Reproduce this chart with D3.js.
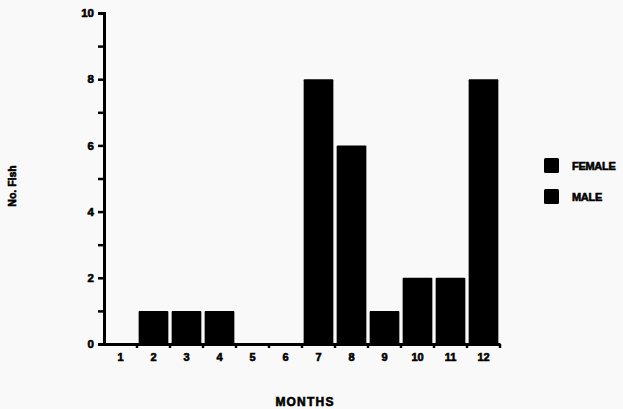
<!DOCTYPE html>
<html><head><meta charset="utf-8">
<script src="https://cdn.jsdelivr.net/npm/d3@7"></script>
<style>
html,body{margin:0;padding:0;background:#f9f9f9;}
text{font-family:"Liberation Sans",Arial,sans-serif;font-weight:bold;fill:#000;stroke:#000;stroke-width:0.6px;}
</style></head>
<body>
<svg id="chart" width="623" height="409"></svg>
<script>
const months = ["1","2","3","4","5","6","7","8","9","10","11","12"];
const counts = [0,1,1,1,0,0,8,6,1,2,2,8];
const yTicks = [0,2,4,6,8,10];
const legendLabels = ["FEMALE","MALE"];

const svg = d3.select("#chart");
const x0 = 104, x1 = 500, yBottom = 344, yTop = 13;
const x = d3.scaleBand().domain(months).range([x0, x1]).paddingInner(0.1).paddingOuter(0.05);
const xb = d3.scaleBand().domain(months).range([x0, x1]);
const y = d3.scaleLinear().domain([0,10]).range([yBottom, yTop]);

// bars
svg.append("g").selectAll("rect").data(months.map((m,i)=>({m, v:counts[i]})).filter(d=>d.v>0))
  .join("rect")
  .attr("x", d=>x(d.m)).attr("width", x.bandwidth())
  .attr("y", d=>y(d.v)).attr("height", d=>y(0)-y(d.v))
  .attr("rx",1).attr("fill","#000");

// y axis
const yAxis = d3.axisLeft(y).tickValues(d3.range(0,11,1)).tickSize(6)
  .tickFormat(d => yTicks.includes(d) ? d : "");
const gy = svg.append("g").attr("transform",`translate(${x0},0)`).call(yAxis);
gy.select(".domain").attr("stroke","#000").attr("stroke-width",3);
gy.selectAll(".tick line").attr("stroke","#000").attr("stroke-width",2.5);
gy.selectAll(".tick text").attr("font-size",11.5).attr("x",-10).attr("font-weight","900");

// x axis
const xAxis = d3.axisBottom(xb).tickSize(0).tickSizeOuter(0);
const gx = svg.append("g").attr("transform",`translate(0,${yBottom})`).call(xAxis);
gx.select(".domain").attr("stroke","#000").attr("stroke-width",3);
gx.selectAll(".tick text").attr("font-size",11).attr("dy","1.3em").attr("font-weight","900");
// boundary tick marks
svg.append("g").selectAll("line").data(months.slice(1).concat(["end"]))
  .join("line")
  .attr("x1", d => d==="end" ? x1 : xb(d)).attr("x2", d => d==="end" ? x1 : xb(d))
  .attr("y1", yBottom).attr("y2", yBottom+4)
  .attr("stroke","#000").attr("stroke-width",2.5);

// axis titles
svg.append("text").attr("x",305).attr("y",406).attr("text-anchor","middle")
  .attr("font-size",12).attr("font-weight","900").attr("letter-spacing","1.2").text("MONTHS");
svg.append("text").attr("transform","translate(16,186) rotate(-90)").attr("text-anchor","middle")
  .attr("font-size",10.5).attr("font-weight","900").text("No. Fish");

// legend
const lg = svg.append("g").selectAll("g").data(legendLabels).join("g")
  .attr("transform",(d,i)=>`translate(544,${158 + i*31})`);
lg.append("rect").attr("width",15).attr("height",15).attr("rx",1.5).attr("fill","#000");
lg.append("text").attr("x",28).attr("y",8).attr("dy","0.35em").attr("font-size",11)
  .attr("font-weight","900").attr("letter-spacing","-0.3").text(d=>d);
</script>
</body></html>
